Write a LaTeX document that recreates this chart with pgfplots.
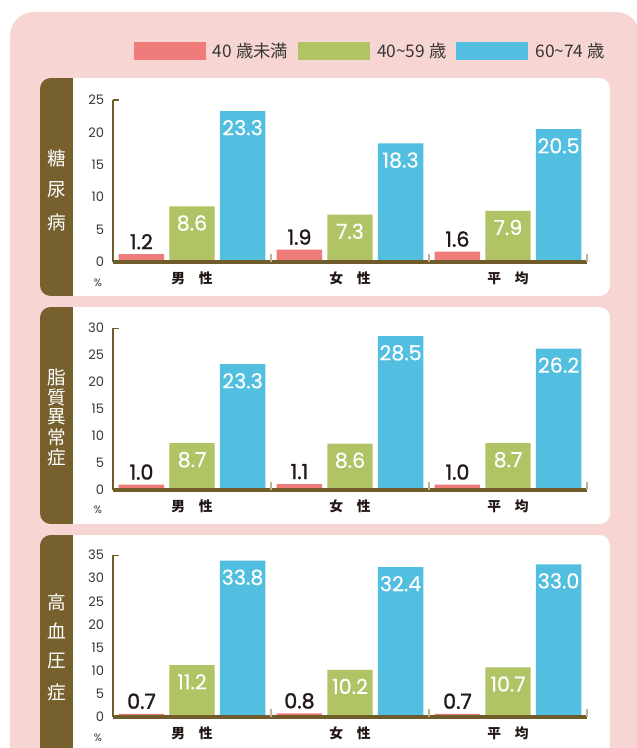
\documentclass[border=0pt]{standalone}
\usepackage{pgfplots}
\pgfplotsset{compat=1.18}
\usepackage{fontspec}
\setmainfont{Poppins}
\newfontfamily\cjk{Noto Sans CJK JP}
\newfontfamily\numdark{Poppins}[FakeBold=1.3]
\newfontfamily\numlight{Poppins}[FakeBold=0.35]

\definecolor{pinkbg}{RGB}{247,213,210}
\definecolor{tabbrown}{RGB}{118,96,46}
\definecolor{axbrown}{RGB}{112,91,42}
\definecolor{sepc}{RGB}{190,178,150}
\definecolor{barred}{RGB}{239,123,123}
\definecolor{bargreen}{RGB}{176,196,102}
\definecolor{barblue}{RGB}{82,191,224}
\definecolor{txtdark}{RGB}{35,24,21}
\definecolor{tickgray}{RGB}{55,55,55}

\pgfplotsset{
  panel/.style={
    width=355.5pt, height=121.5pt, scale only axis, anchor=south west,
    ybar=3.8pt, bar width=34.1pt,
    xmin=-0.5, xmax=2.5, ymin=0,
    axis on top,
    axis x line*=bottom, axis y line*=left,
    axis line style={draw=axbrown, -},
    every outer x axis line/.append style={line width=2.3pt},
    every outer y axis line/.append style={line width=2.1pt},
    major tick length=0pt,
    xtick={0,1,2},
    xticklabels={男　性,女　性,平　均},
    xticklabel style={font=\cjk\bfseries\fontsize{10.3}{10.3}\selectfont, text=txtdark,
      anchor=north, inner sep=0pt, yshift=-6.8pt},
    extra x ticks={0.5,1.5,2.5},
    extra x tick labels={},
    extra x tick style={major tick length=6pt, tick align=inside,
      tick style={draw=sepc, line width=0.8pt}},
    ytick distance=5,
    yticklabel style={font=\fontsize{9.8}{9.8}\selectfont, text=tickgray,
      anchor=east, inner sep=0pt, xshift=-6.5pt},
    /pgf/number format/assume math mode=true,
    nodes near coords={\pgfmathprintnumber[fixed,fixed zerofill,precision=1,assume math mode=true]{\pgfplotspointmeta}},
    every node near coord/.append style={inner sep=0pt},
  },
  lowbar/.style={fill=barred, draw=none,
    every node near coord/.append style={anchor=base, yshift=3.75pt, text=txtdark,
      font=\numdark\fontsize{15.5}{15.5}\selectfont}},
  inbar/.style={fill=#1, draw=none,
    every node near coord/.append style={anchor=north, yshift=-6.5pt, text=white,
      font=\numlight\fontsize{15.5}{15.5}\selectfont}},
}

\begin{document}
\begin{tikzpicture}
\begin{scope}[x=0.75pt, y=-0.75pt]
  \useasboundingbox (0,0) rectangle (636,748);
  \fill[pinkbg, rounded corners=18pt] (10,12) rectangle (640,790);
  % three panels: brown tab on the left, white body
  \foreach \top/\bot in {78/296, 307/524, 535/790} {
    \begin{scope}
      \clip[rounded corners=8pt] (40,\top) rectangle (610,\bot);
      \fill[white] (40,\top) rectangle (610,\bot);
      \fill[tabbrown] (40,\top) rectangle (73,\bot);
    \end{scope}
  }
  \foreach \c/\y in {糖/158, 尿/190, 病/222,
                     脂/377, 質/397, 異/417, 常/437, 症/457,
                     高/602, 血/631, 圧/661, 症/692}
    \node[text=white, font=\cjk\fontsize{14}{14}\selectfont, inner sep=0pt] at (56.5,\y) {\c};
  \foreach \y in {283, 510, 738}
    \node[text=tickgray, font=\fontsize{8}{8}\selectfont, inner sep=0pt] at (98,\y) {\%};
  \coordinate (a1) at (113,262);
  \coordinate (a2) at (113,490);
  \coordinate (a3) at (113,717);
\end{scope}

% 糖尿病
\begin{axis}[panel, at={(a1)}, ymax=25,
  legend image code/.code={\path[#1] (0pt,-6.75pt) rectangle (54pt,6.75pt);},
  legend style={at={(0.0443,1.302)}, anchor=west, draw=none, fill=none,
    inner sep=0pt, outer sep=0pt, legend columns=-1,
    font=\cjk\fontsize{13}{13}\selectfont, text=tickgray,
    nodes={inner sep=0pt},
    /tikz/every odd column/.append style={column sep=5.25pt},
    /tikz/every even column/.append style={column sep=7.5pt}}]
\addplot[lowbar] coordinates {(0,1.2) (1,1.9) (2,1.6)};
\addplot[inbar=bargreen] coordinates {(0,8.6) (1,7.3) (2,7.9)};
\addplot[inbar=barblue] coordinates {(0,23.3) (1,18.3) (2,20.5)};
\draw[axbrown, line width=2.1pt] (rel axis cs:0,1) -- (rel axis cs:0.013,1);
\legend{40 歳未満, 40\textasciitilde59 歳, 60\textasciitilde74 歳}
\end{axis}

% 脂質異常症
\begin{axis}[panel, at={(a2)}, ymax=30]
\addplot[lowbar] coordinates {(0,1.0) (1,1.1) (2,1.0)};
\addplot[inbar=bargreen] coordinates {(0,8.7) (1,8.6) (2,8.7)};
\addplot[inbar=barblue] coordinates {(0,23.3) (1,28.5) (2,26.2)};
\draw[axbrown, line width=2.1pt] (rel axis cs:0,1) -- (rel axis cs:0.013,1);
\end{axis}

% 高血圧症
\begin{axis}[panel, at={(a3)}, ymax=35]
\addplot[lowbar] coordinates {(0,0.7) (1,0.8) (2,0.7)};
\addplot[inbar=bargreen] coordinates {(0,11.2) (1,10.2) (2,10.7)};
\addplot[inbar=barblue] coordinates {(0,33.8) (1,32.4) (2,33.0)};
\draw[axbrown, line width=2.1pt] (rel axis cs:0,1) -- (rel axis cs:0.013,1);
\end{axis}
\end{tikzpicture}
\end{document}
